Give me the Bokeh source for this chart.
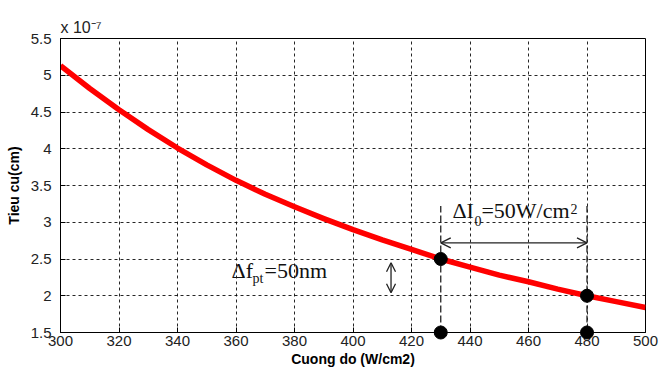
from bokeh.plotting import figure
from bokeh.models import FixedTicker, Label, Arrow, OpenHead, Range1d, Title
from bokeh.embed import file_html
from bokeh.resources import INLINE

# Data (focal length in units of 1e-7 cm vs intensity in W/cm2)
intensity = [300, 310, 320, 330, 340, 350, 360, 370, 380, 390, 400,
             410, 420, 430, 440, 450, 460, 470, 480, 490, 500]
focal = [5.13, 4.82, 4.53, 4.26, 4.01, 3.78, 3.57, 3.38, 3.21, 3.05, 2.90,
         2.76, 2.63, 2.50, 2.39, 2.28, 2.19, 2.09, 2.00, 1.92, 1.84]

mark_x = [430, 480, 430, 480]
mark_y = [2.5, 2.0, 1.5, 1.5]

x_ticks = [300, 320, 340, 360, 380, 400, 420, 440, 460, 480, 500]
y_ticks = [1.5, 2, 2.5, 3, 3.5, 4, 4.5, 5, 5.5]
y_tick_labels = ["1.5", "2", "2.5", "3", "3.5", "4", "4.5", "5", "5.5"]

guide_x = [430, 480]
guide_y0 = 1.5
guide_y1 = 3.22
dI_arrow_y = 2.72
df_arrow_x = 413
df_arrow_y = [2.04, 2.45]

p = figure(width=659, height=372, output_backend="svg", toolbar_location=None,
           x_range=Range1d(300, 500), y_range=Range1d(1.5, 5.5),
           min_border_left=60, min_border_right=14, min_border_top=38, min_border_bottom=40)
p.background_fill_color = "white"
p.border_fill_color = "white"
p.outline_line_color = "black"
p.outline_line_width = 1

p.add_layout(Title(text="x 10\u207b\u2077", align="left", offset=0, standoff=5,
                   text_font="Arial", text_font_size="16px", text_font_style="normal",
                   text_color="#222222"), "above")

for ax in (p.xaxis[0], p.yaxis[0]):
    ax.major_tick_in = 5
    ax.major_tick_out = 0
    ax.minor_tick_in = 0
    ax.minor_tick_out = 0
    ax.axis_line_color = "black"
    ax.major_label_text_font = "Arial"
    ax.major_label_text_font_size = "15px"
    ax.major_label_text_color = "#222222"
    ax.axis_label_text_font = "Arial"
    ax.axis_label_text_font_size = "14px"
    ax.axis_label_text_font_style = "bold"
    ax.axis_label_text_color = "black"

p.xaxis.ticker = FixedTicker(ticks=x_ticks)
p.yaxis.ticker = FixedTicker(ticks=y_ticks)
p.yaxis.major_label_overrides = {t: s for t, s in zip(y_ticks, y_tick_labels)}
p.xaxis.major_label_standoff = 3
p.yaxis.major_label_standoff = 9
p.xaxis.axis_label = "Cuong do (W/cm2)"
p.yaxis.axis_label = "Tieu cu(cm)"
p.xaxis.axis_label_standoff = 2
p.yaxis.axis_label_standoff = 6

p.grid.grid_line_color = "black"
p.grid.grid_line_dash = "3 3"
p.grid.grid_line_width = 1
p.grid.grid_line_alpha = 0.85

# guides
for gx in guide_x:
    p.line([gx, gx], [guide_y0, guide_y1], line_color="#222222", line_width=1.3, line_dash="7 3")

# main curve
p.line(intensity, focal, line_color="red", line_width=5.5, line_join="round")

# markers
p.scatter(mark_x, mark_y, size=13, fill_color="black", line_color="black", level="overlay")

# arrows
p.add_layout(Arrow(start=OpenHead(size=10, line_color="#222222", line_width=1.3),
                   end=OpenHead(size=10, line_color="#222222", line_width=1.3),
                   x_start=guide_x[0], y_start=dI_arrow_y, x_end=guide_x[1], y_end=dI_arrow_y,
                   line_color="#222222", line_width=1.3))
p.add_layout(Arrow(start=OpenHead(size=9, line_color="#222222", line_width=1.3),
                   end=OpenHead(size=9, line_color="#222222", line_width=1.3),
                   x_start=df_arrow_x, y_start=df_arrow_y[0], x_end=df_arrow_x, y_end=df_arrow_y[1],
                   line_color="#222222", line_width=1.3))

serif = "Liberation Serif"
big = "22px"
small = "14px"
ink = "#111111"
# ΔI0 = 50W/cm2 annotation
dI_x, dI_y = 434.0, 2.99
p.add_layout(Label(x=dI_x, y=dI_y, text="\u0394I", text_font=serif, text_font_size=big, text_color=ink))
p.add_layout(Label(x=dI_x, y=dI_y, x_offset=22, y_offset=-3, text="0", text_font=serif,
                   text_font_size=small, text_color=ink))
p.add_layout(Label(x=dI_x, y=dI_y, x_offset=29, text="=50W/cm", text_font=serif,
                   text_font_size=big, text_color=ink))
p.add_layout(Label(x=dI_x, y=dI_y, x_offset=118, y_offset=9, text="2", text_font=serif,
                   text_font_size=small, text_color=ink))

# Δf_pt = 50nm annotation
df_x, df_y = 358.5, 2.17
p.add_layout(Label(x=df_x, y=df_y, text="\u0394f", text_font=serif, text_font_size=big, text_color=ink))
p.add_layout(Label(x=df_x, y=df_y, x_offset=21, y_offset=-3, text="pt", text_font=serif,
                   text_font_size=small, text_color=ink))
p.add_layout(Label(x=df_x, y=df_y, x_offset=33, text="=50nm", text_font=serif,
                   text_font_size=big, text_color=ink))

open("out.html", "w").write(file_html(p, INLINE))
